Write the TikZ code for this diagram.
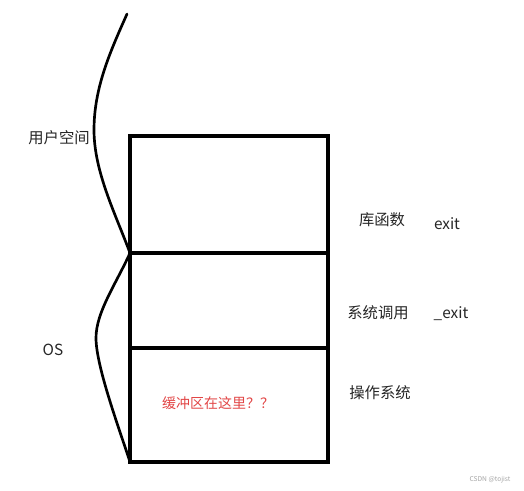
\documentclass[tikz,border=0pt]{standalone}
\usepackage{fontspec}
\setmainfont{Noto Sans CJK SC}
\begin{document}
\begin{tikzpicture}[x=0.75pt,y=-0.75pt,
  layer/.style={draw, line width=2.3pt, minimum width=198*0.75pt, inner sep=0pt, outer sep=0pt},
  lbl/.style={font=\fontsize{11.5pt}{13pt}\selectfont, text=black!85, inner sep=0pt},
  curve/.style={line width=2pt, line cap=round}]
\useasboundingbox[fill=white] (0,0) rectangle (524,490);
\node[layer, minimum height=117*0.75pt, anchor=north west] (top) at (130,136) {};
\node[layer, minimum height=95*0.75pt, anchor=north west] (mid) at (130,253) {};
\node[layer, minimum height=114*0.75pt, anchor=north west] (bot) at (130,348) {};
\coordinate (start) at (127,14);
\draw[curve] (start) .. controls (110,52) and (94,88) .. (94,130)
  .. controls (94,172) and (116,215) .. (top.south west);
\draw[curve] (mid.north west) .. controls (116,284) and (96,312) .. (96,338)
  .. controls (96,366) and (119,428) .. (bot.south west);
\node[lbl] (user) at (59,138) {用户空间};
\node[lbl] (os) at (53,350) {OS};
\node[lbl] (lib) at (382,220) {库函数};
\node[lbl] (exit) at (447,224) {exit};
\node[lbl] (sys) at (378,313) {系统调用};
\node[lbl] (uexit) at (451,314) {\_exit};
\node[lbl] (kern) at (380,393) {操作系统};
\node[lbl, text={rgb,255:red,226;green,70;blue,70}, font=\fontsize{10.5pt}{12pt}\selectfont] (buf) at (218,403) {缓冲区在这里？？};
\node[font=\fontsize{5pt}{6pt}\selectfont, text=black!35, inner sep=0pt] (wm) at (490,480) {CSDN @tojist};
\end{tikzpicture}
\end{document}
